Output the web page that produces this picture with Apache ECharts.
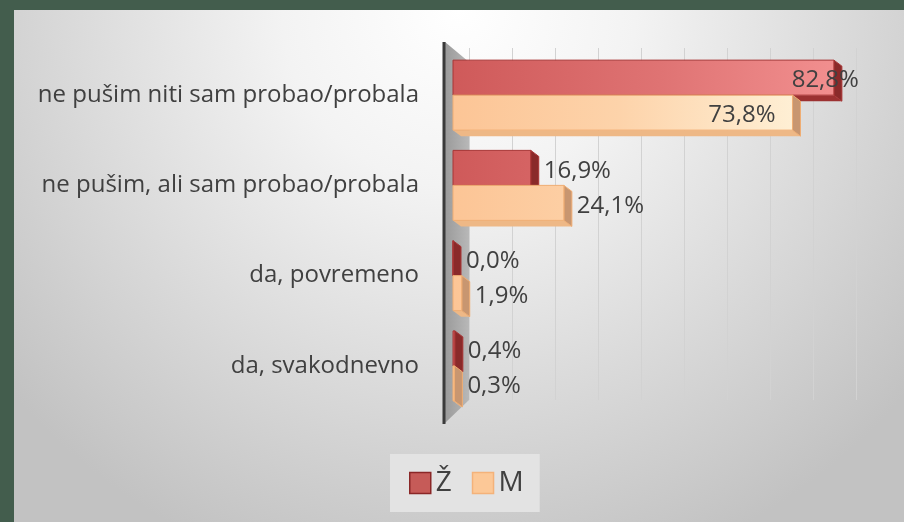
<!DOCTYPE html>
<html>
<head>
<meta charset="utf-8">
<script src="https://cdn.jsdelivr.net/npm/echarts@6/dist/echarts.min.js"></script>
<style>
  html, body { margin: 0; padding: 0; background: #435d4d; }
  #chart { width: 904px; height: 522px; }
</style>
</head>
<body>
<div id="chart"></div>
<script>
// data
const categories = [
  'ne pušim niti sam probao/probala',
  'ne pušim, ali sam probao/probala',
  'da, povremeno',
  'da, svakodnevno'
];
const zValues = [82.8, 16.9, 0.0, 0.4];
const mValues = [73.8, 24.1, 1.9, 0.3];

const FONT = '"Open Sans", sans-serif';
const GRID_LEFT = 453;
const GRID_RIGHT = 37;
const BAR_H = 35;
const DX = 8, DY = 6;   // fake 3d depth

function pct(v) {
  return v.toFixed(1).replace('.', ',') + '%';
}

function makeRender(cfg) {
  return function (params, api) {
    const cat = api.value(1);
    const val = api.value(0);
    const zero = api.coord([0, cat]);
    const end = api.coord([val, cat]);
    const x0 = zero[0], x1 = end[0];
    const top = zero[1] + cfg.shift * BAR_H;
    const b = top + BAR_H;
    const w = api.getWidth();
    const fill = new echarts.graphic.LinearGradient(GRID_LEFT, 0, w - GRID_RIGHT, 0, cfg.stops, true);

    let tx, align;
    if (val > 50) { tx = x1 + cfg.insideDx; align = 'right'; }
    else { tx = x1 + DX + 5; align = 'left'; }

    return {
      type: 'group',
      children: [
        { type: 'polygon', shape: { points: [[x0, b], [x1, b], [x1 + DX, b + DY], [x0 + DX, b + DY]] },
          style: { fill: cfg.bottom } },
        { type: 'polygon', shape: { points: [[x1, top], [x1 + DX, top + DY], [x1 + DX, b + DY], [x1, b]] },
          style: { fill: cfg.side, stroke: cfg.stroke, lineWidth: 1 } },
        { type: 'rect', shape: { x: x0, y: top, width: x1 - x0, height: BAR_H },
          style: { fill: fill, stroke: cfg.stroke, lineWidth: 1 } },
        { type: 'text', x: tx, y: top + BAR_H / 2 + 3,
          style: { text: pct(val), fill: '#404040', font: '24px ' + FONT, textAlign: align, textVerticalAlign: 'middle' } }
      ]
    };
  };
}

const zCfg = {
  shift: -1, insideDx: 25,
  stops: [{ offset: 0, color: '#cf5a5a' }, { offset: 0.5, color: '#df7373' }, { offset: 1, color: '#f59494' }],
  side: '#8a2a2a', bottom: '#9c3131', stroke: '#a83434'
};
const mCfg = {
  shift: 0, insideDx: -17,
  stops: [{ offset: 0, color: '#fcc596' }, { offset: 0.4, color: '#fdd3aa' }, { offset: 1, color: '#fffbe6' }],
  side: '#c89670', bottom: '#eeb886', stroke: '#f0ad72'
};

const chart = echarts.init(document.getElementById('chart'), null, { renderer: 'canvas' });

const option = {
  backgroundColor: '#435d4d',
  animation: false,
  graphic: [
    { type: 'rect', z: -10, shape: { x: 14, y: 10, width: 890, height: 512 },
      style: { fill: new echarts.graphic.RadialGradient(0.5, 0, 1.15, [
        { offset: 0, color: '#ffffff' }, { offset: 0.3, color: '#f3f3f3' }, { offset: 1, color: '#c2c2c2' }]) } },
    { type: 'polygon', z: 1, shape: { points: [[445, 42], [469, 62], [469, 400], [445, 423]] },
      style: { fill: new echarts.graphic.LinearGradient(0, 0, 1, 0, [
        { offset: 0, color: '#9a9a9a' }, { offset: 1, color: '#b8b8b8' }]) } },
    { type: 'line', z: 1, shape: { x1: 444, y1: 42, x2: 444, y2: 424 },
      style: { stroke: '#3a3a3a', lineWidth: 3 } }
  ],
  legend: {
    left: 390, top: 454,
    padding: [15, 16, 15, 19],
    backgroundColor: '#e3e3e3',
    itemWidth: 21, itemHeight: 21, itemGap: 20,
    textStyle: { fontSize: 28, color: '#404040', fontFamily: FONT },
    data: [
      { name: 'Ž', icon: 'rect', itemStyle: { color: '#c65b58', borderColor: '#8a2727', borderWidth: 1.5 } },
      { name: 'M', icon: 'rect', itemStyle: { color: '#fcc897', borderColor: '#f4b27a', borderWidth: 1.5 } }
    ]
  },
  grid: [
    { left: GRID_LEFT, right: GRID_RIGHT, top: 50, bottom: 111 },
    { left: 469, right: 48, top: 48, bottom: 122 }
  ],
  xAxis: [
    { type: 'value', gridIndex: 0, min: 0, max: 90, interval: 10,
      axisLabel: { show: false }, axisLine: { show: false }, axisTick: { show: false }, splitLine: { show: false } },
    { type: 'value', gridIndex: 1, min: 0, max: 90, interval: 10,
      axisLabel: { show: false }, axisLine: { show: false }, axisTick: { show: false },
      splitLine: { show: true, lineStyle: { color: '#d2d2d2', width: 1 } } }
  ],
  yAxis: [
    { type: 'category', gridIndex: 0, data: categories, inverse: true,
      axisLine: { show: false }, axisTick: { show: false },
      axisLabel: { margin: 34, fontSize: 24, color: '#404040', fontFamily: FONT } },
    { type: 'value', gridIndex: 1, show: false }
  ],
  series: [
    { name: 'Ž', type: 'custom', xAxisIndex: 0, yAxisIndex: 0, clip: false,
      itemStyle: { color: '#c65b58' },
      encode: { x: 0, y: 1 },
      renderItem: makeRender(zCfg),
      data: zValues.map((v, i) => [v, i]) },
    { name: 'M', type: 'custom', xAxisIndex: 0, yAxisIndex: 0, clip: false,
      itemStyle: { color: '#fcc897' },
      encode: { x: 0, y: 1 },
      renderItem: makeRender(mCfg),
      data: mValues.map((v, i) => [v, i]) }
  ]
};

chart.setOption(option);
</script>
</body>
</html>
